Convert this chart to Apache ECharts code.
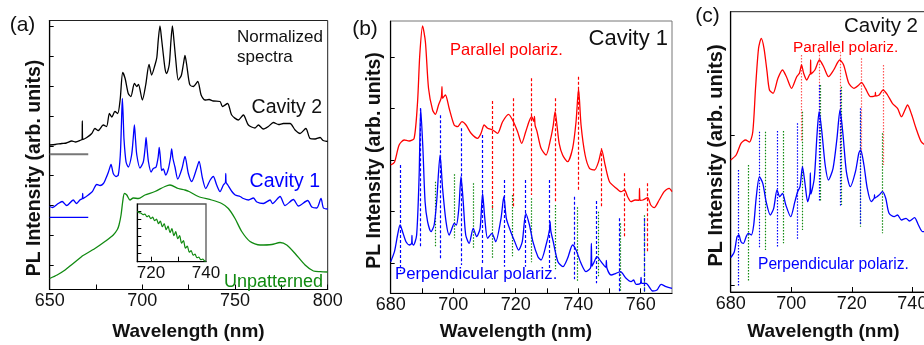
<!DOCTYPE html>
<html>
<head>
<meta charset="utf-8">
<script src="https://cdn.jsdelivr.net/npm/echarts@6/dist/echarts.min.js"></script>
<style>
  html, body { margin: 0; padding: 0; background: #fff; }
  #chart { width: 924px; height: 345px; }
</style>
</head>
<body>
<div id="chart"></div>
<script>
// PL spectra, intensities in arb. units (height above the panel's bottom axis)

// (a) normalized spectra
const cavity2A = [[650,144.5],[653,145],[656.5,146],[659,146.5],[661.9,148.5],[664,147.5],[666.9,149.5],[667.5,150],[667.6,168.5],[667.8,150],[670,152],[672.7,156],[674.4,161],[676.2,159],[678.9,164.5],[680.7,163],[682.2,176],[683.5,172.5],[685.2,178],[686.7,176],[688,189.5],[689.4,217],[690.7,211],[692.4,196],[693.8,193],[695.7,206],[697,203],[697.9,205],[700,189.5],[701.8,204.5],[703.6,225],[705,214.5],[706.8,224.5],[707.8,232],[708.6,250],[709.5,263.5],[710.4,250],[711.3,235],[712.3,220],[713.1,216],[714.5,225],[715.4,248],[716.2,263.5],[717.1,248],[718,230],[719.4,209.5],[721,214],[722.2,226],[723,234],[723.9,225],[725,210],[725.7,204.5],[727.5,203],[729.9,208],[731.7,194.5],[733.8,189.5],[736,190],[738.3,188.5],[741.9,188],[743.2,183],[746,186],[748.2,174.5],[751.8,169.5],[754.5,174.5],[757.2,164.5],[760.8,161.5],[762.6,164.5],[765.3,160.5],[768,163],[770.7,167],[773.5,165],[776.1,166],[779.7,166],[782.4,159.5],[785.1,156],[788.2,161],[790.5,151],[793.2,150.5],[795.9,152],[797.5,149],[800,148]];
const cavity1A = [[650,83],[651.5,82],[654.6,86],[656.7,88],[659.2,84],[662.7,89.5],[664.5,86],[666.3,89.5],[667.6,91],[667.8,96],[668,91],[670.8,94.5],[673,97.8],[675.4,105],[677.2,104],[679,106],[680.3,111],[681.7,117.5],[683.1,125],[684.3,116],[685.8,113],[687,114.5],[688.1,134.5],[688.7,165],[689.2,191],[689.7,170],[690.1,150],[691.2,127.5],[692.4,122.5],[694.2,134.5],[695.1,152],[695.7,164.5],[696.3,150],[697,134.5],[698.7,121.5],[700.5,127.5],[701.5,142],[702,152],[702.6,140],[703.3,127.5],[704.7,117.5],[705.9,121],[707.4,122.5],[708.5,132],[709.1,142],[709.7,132],[710.4,119],[711.3,120.5],[712.6,114.5],[714,120.5],[715.2,132],[715.8,140.5],[716.5,131],[717.6,122.5],[719.1,110.5],[721.3,120.5],[723,133],[724.8,116],[726.6,108],[729.3,121],[730.6,128],[732.4,111.5],[734.2,101],[736.6,109.5],[738.3,113],[740.1,104.5],[741.9,98],[743.7,104.5],[744.8,107],[745,116],[745.2,107],[746.1,104.5],[748.3,98],[750.1,94.5],[752.7,93],[754.5,91],[757.3,89.5],[759.9,91.5],[761.8,87.5],[765.3,86],[768.9,89.5],[770.2,86],[774.3,93],[777,84],[781.5,90],[784.2,83.5],[789.2,89],[791.4,82.5],[794.1,81.5],[796.4,91],[797.7,81.5],[800,80.5]];
const unpatternedA = [[650,11],[654,14.5],[658.3,19.5],[662,25],[667.3,33],[668,34],[674.4,41],[679.8,48],[684.3,54.5],[686.5,60],[687.4,64.5],[688.5,74.5],[689.4,88],[690.3,96],[691.6,94.5],[693.3,89.5],[695.1,91.5],[697.8,91],[701.4,94.5],[706.8,98],[712.2,103],[714.9,104.5],[719.4,101],[723,99.5],[725.2,98],[730.2,93],[737.4,89.5],[742.8,86],[746.4,81],[750,71],[753.6,58],[758.1,48],[763.5,44.5],[769.8,45],[774.3,47],[777.9,44.5],[782.4,36],[787.8,24.5],[792.3,18.5],[796,17.8],[800,17.5]];
const insetA = [[715,50.5],[715.7,49],[716.4,48.5],[717.1,47],[717.8,47.5],[718.5,45],[719.2,46],[719.9,43],[720.6,44.5],[721.3,41],[722,42.5],[722.7,38],[723.4,40.5],[724.1,35],[724.8,38],[725.5,32],[726.2,35.5],[726.9,29],[727.6,33],[728.3,26],[729,30],[729.7,23],[730.4,26],[731.1,18.5],[731.8,21],[732.5,13.5],[733.2,15.5],[733.9,9.5],[734.6,11],[735.3,6.5],[736,7.5],[736.7,4],[737.4,4.5],[738.1,2],[738.8,2.5],[739.5,0.8],[740,0.5]];
const baseCavity2 = 135.2;
const baseCavity1 = 72.2;
const baseRange = [650, 670.8];

// (b) cavity 1, two polarizations
const parallelB = [[680,128.3],[681.2,131],[682.7,148.3],[684.3,153.3],[685.9,152.3],[687.5,155],[688.6,191.6],[689.3,238.3],[690.2,267.3],[691.1,251.6],[692.1,205],[693.4,183.3],[694.3,179],[695.3,188.3],[696.2,196],[696.4,206.6],[696.6,195],[697.5,198.3],[698.7,185],[700.3,168.3],[701.4,166.6],[702.8,171.6],[704.1,168.3],[705.7,160],[707.8,155],[708.9,160],[709.9,168.3],[711,165],[712.6,163.3],[714.2,160],[715.8,171.6],[717.7,179],[719,173.3],[720.6,161.6],[721.9,150],[723.2,161.6],[724.3,172],[725.1,176.6],[725.8,172],[726,177],[726.2,168],[726.8,162],[728.1,145],[729.7,138.3],[731.2,155],[732,168],[732.6,181.6],[733.2,168],[733.9,150],[735,138.3],[736.6,131.6],[738.2,145],[739.3,171.6],[740.1,204.3],[740.9,168.3],[742.2,138.3],[743.6,125],[745.2,123.3],[746.5,131.6],[747.5,143.3],[748.6,128.3],[750,111.6],[752.2,105],[753.7,101.6],[754.8,103.3],[755.8,96.6],[756.9,91.6],[758.2,93.3],[759.5,93],[759.6,105],[759.8,93],[760.7,93.3],[762.2,95.6],[763.2,88.3],[764.3,85.6],[765.9,93.3],[767.5,101.6],[769.1,105],[770,101.6]];
const perpendicularB = [[680,31.6],[681.2,41.6],[682.2,58.3],[683,68.3],[683.8,61.6],[684.9,51.6],[686,48.3],[686.7,50],[686.8,58],[686.9,50],[687.3,48.3],[688.3,58.3],[689.1,118.3],[689.6,185],[690.3,145],[691,91.6],[691.8,71.6],[692.9,61.6],[693.9,68.3],[694.7,91.6],[695.8,138.3],[696.6,105],[697.7,71.6],[698.7,58.3],[699.8,66.6],[700.3,70],[701,68.3],[701.8,85],[702.5,116.6],[703.2,91.6],[704,58.3],[705.1,50],[706.4,65],[707.5,56.6],[708.6,65],[709.4,100],[710.1,75],[711,55],[712.4,60],[713.6,51.6],[715.3,75],[716.2,96.6],[717,75],[718.4,61.6],[719.7,51.6],[720.9,43.3],[722.1,51.6],[723.2,80],[724.4,68.3],[725.5,51.6],[727.1,36.6],[728.1,33.3],[729.7,48.3],[730.8,63.3],[731,71.6],[731.2,63],[732,51.6],[733.5,31.6],[735.1,26.6],[736.6,35],[738.2,48.3],[739.3,43.3],[740.9,30],[742.5,21.6],[744,26],[744.2,50],[744.4,27],[744.9,30],[746,36.6],[747.3,31.6],[748.8,26],[749,33],[749.2,25],[750.5,18.3],[752.1,20],[753.5,21.6],[755.3,15],[756.9,11.6],[757.7,13.3],[758.5,9],[759.9,10],[760.1,16],[760.3,10],[761.7,10],[763.8,2.3],[765.2,3.3],[766.5,9],[768.1,6.6],[770,5]];
// mode markers: [wavelength, top, bottom]
const redModesB = [[712.6,192.3,85],[719.2,195,86.6],[725.1,215,98.3],[732.7,195,90],[740.1,216.6,103.3],[747.3,145,85],[754.8,120,56.6],[762.2,110,40]];
const blueModesB = [[683.1,128.3,22],[689.5,185,45],[695.9,178,35],[702.5,165,28.3],[709.4,158.3,28.3],[716.3,113.3,26.6],[723.2,113.3,26.6],[730.8,113.3,25],[738.6,96.6,14],[745.8,92.3,10],[753.2,75,1.6],[761.2,75,1.6]];
const greenModesB = [[694.3,111.6,47],[700.3,119,55],[706.5,110,45],[712.6,88,35],[719,98.3,37],[725.1,95,31],[732.6,88.3,24],[739.8,86,12],[746.5,81.6,17],[753.5,70,1.6],[761.2,78,1.6]];

// (c) cavity 2, two polarizations
const parallelC = [[680,132],[681.8,137],[683.4,148.7],[684.9,152],[686.2,150],[687.3,160.3],[688.2,203.7],[689.2,243.7],[690.1,253.7],[691,243.7],[692,220.3],[692.8,202],[694,198.7],[695.6,213.7],[697.1,222],[698.4,215.3],[700.1,203.7],[701.8,215.3],[702.7,218.7],[703.4,227],[704.1,218.7],[705.1,212],[706,217],[706.3,218],[706.4,232],[706.5,218],[707.8,222],[709.3,232],[710.7,225.3],[712.3,215.3],[714,222],[716,232],[717.3,227],[719,208.7],[720.7,203.7],[722.3,207],[723.2,209.7],[724.5,203.7],[726.2,195.3],[727.7,196.3],[727.8,199.5],[727.9,196],[729,197],[730.3,202],[731.8,197],[733.4,188.7],[735.1,183.7],[736.4,175.3],[737.3,180.3],[738.4,187],[739.8,177],[741.2,163.7],[742.9,150.3],[744.4,147]];
const perpendicularC = [[680,34.3],[681.2,40.3],[682.1,55.3],[682.7,57],[683.4,50.3],[684.2,48.7],[685.1,55.3],[685.8,58.7],[686.8,57],[687.6,67],[688.4,93.7],[689.5,115.3],[690.6,108.7],[691.7,90.3],[693.1,77],[694.2,83.7],[695.3,102],[696.2,95.3],[697.1,98.7],[698.2,87],[699.8,75.3],[701.2,90.3],[702.1,100.3],[702.9,105.3],[703.7,125.3],[704.6,107],[705.4,90.3],[706.2,100],[706.3,119],[706.5,98],[707.6,113.7],[708.5,157],[709.2,180.3],[710.1,160.3],[711.2,127],[712.3,112],[713.8,123.7],[715.1,153.7],[716.1,182],[717.1,157],[718.2,120.3],[719.5,105.3],[721.2,120.3],[722.3,138.7],[722.9,142],[724,127],[725.1,103.7],[726.4,90.3],[727.4,94],[727.5,97],[727.6,94],[729,97],[730.1,100.3],[731.2,93.7],[732.3,78.7],[734,75.3],[735.1,77],[736.4,72],[737.9,73.7],[739,71],[740.7,74.3],[742,67],[743.4,60.3],[744.4,60.3]];
const redModesC = [[703.4,237,150.3],[709.2,240.3,153.7],[716.1,240.3,140.3],[723.2,233.7,137],[730.3,227,127]];
const blueModesC = [[682.5,122,5.3],[689.5,160.3,43.7],[695.3,161,45],[702.1,168.7,52],[709.2,207,90.3],[716.2,202,85.3],[722.9,183.7,67]];
const greenModesC = [[685.8,127,10.3],[691.3,160.3,42],[697.5,161,48.7],[703.7,180.3,62],[709.5,207,90.3],[716.4,205.3,87],[722.7,180.3,65.3],[729.9,158.7,58.7]];

// tick values
const ticksXA = [650, 675, 700, 725, 750, 775, 800];
const labelsXA = [650, 700, 750, 800];
const ticksXInset = [720, 730];
const labelsXInset = [720, 740];
const ticksYInset = [8, 16.5, 25, 33.5, 42, 50.5];
const ticksYA = [24.5, 54.3, 84.1, 113.9, 143.7, 173.5, 203.3, 233.1, 262.9];
const ticksXB = [690, 700, 710, 720, 730, 740, 750, 760];
const labelsXB = [680, 700, 720, 740, 760];
const ticksYB = [30, 81.6, 133.2, 184.8, 236.4];
const labelsXC = [680, 700, 720, 740];
const ticksYC = [7, 157];

const FONT = "'Liberation Sans', Arial, Helvetica, sans-serif";
const BLUE = '#0000ff';
const RED = '#ff0000';
const GREEN = '#118a11';

const chart = echarts.init(document.getElementById('chart'));

function xAx(gi, min, max, ticks, labels, size) {
    return {
        type: 'value', gridIndex: gi, min: min, max: max,
        axisLine: { lineStyle: { color: '#000', width: 1.2 } },
        axisTick: { inside: true, length: 5, customValues: ticks, lineStyle: { color: '#000' } },
        axisLabel: { customValues: labels, fontSize: size, color: '#111', fontFamily: FONT, margin: 3 },
        splitLine: { show: false }
    };
}
function yAx(gi, max, ticks) {
    return {
        type: 'value', gridIndex: gi, min: 0, max: max,
        axisLine: { lineStyle: { color: '#000', width: 1.2 } },
        axisTick: { inside: true, length: 4, customValues: ticks, lineStyle: { color: '#000' } },
        axisLabel: { show: false },
        splitLine: { show: false }
    };
}
function curve(data, idx, color, width) {
    return {
        type: 'line', xAxisIndex: idx, yAxisIndex: idx, data: data,
        showSymbol: false, smooth: 0.25, silent: true,
        lineStyle: { color: color, width: width || 1.3 }
    };
}
function modes(list, idx, color, dash) {
    return {
        type: 'lines', coordinateSystem: 'cartesian2d', xAxisIndex: idx, yAxisIndex: idx, silent: true,
        lineStyle: { color: color, width: 1.2, type: dash, opacity: 1 },
        data: list.map(m => ({ coords: [[m[0], m[1]], [m[0], m[2]]] }))
    };
}
function txt(text, x, y, size, color, align, bold, rot) {
    return {
        type: 'text', x: x, y: y, rotation: rot || 0, z: 100, silent: true,
        style: {
            text: text, x: 0, y: 0, fill: color,
            font: (bold ? 'bold ' : '') + size + 'px ' + FONT,
            textAlign: align, align: align, textVerticalAlign: 'middle', verticalAlign: 'middle'
        }
    };
}

const option = {
    animation: false,
    backgroundColor: '#fff',
    grid: [
        { left: 49.7, top: 20.5, width: 278, height: 269, show: true, borderColor: '#222', borderWidth: 1, outerBoundsMode: 'none' },
        { left: 137.3, top: 204, width: 68.7, height: 57.7, show: true, borderColor: '#555', borderWidth: 1.3, backgroundColor: '#fff', z: 3, outerBoundsMode: 'none' },
        { left: 390.7, top: 21, width: 281.3, height: 272.3, show: true, borderColor: '#777', borderWidth: 1, outerBoundsMode: 'none' },
        { left: 730.7, top: 11.7, width: 195, height: 280.3, show: true, borderColor: '#222', borderWidth: 1, outerBoundsMode: 'none' }
    ],
    xAxis: [
        xAx(0, 650, 800, ticksXA, labelsXA, 18),
        Object.assign(xAx(1, 715, 740, ticksXInset, labelsXInset, 17), { z: 4 }),
        xAx(2, 680, 770, ticksXB, labelsXB, 18),
        xAx(3, 680, 744.4, labelsXC, labelsXC, 18)
    ],
    yAxis: [
        yAx(0, 269, ticksYA),
        Object.assign(yAx(1, 57.7, ticksYInset), { z: 4 }),
        yAx(2, 272.3, ticksYB),
        yAx(3, 280.3, ticksYC)
    ],
    series: [
        curve(cavity2A, 0, '#000'),
        curve(cavity1A, 0, BLUE),
        curve(unpatternedA, 0, GREEN),
        curve([[baseRange[0], baseCavity2], [baseRange[1], baseCavity2]], 0, '#777', 2),
        curve([[baseRange[0], baseCavity1], [baseRange[1], baseCavity1]], 0, BLUE, 1.3),
        Object.assign(curve(insetA, 1, GREEN, 1.2), { z: 5 }),
        curve(parallelB, 2, RED),
        curve(perpendicularB, 2, BLUE),
        modes(greenModesB, 2, GREEN, [1.5, 1.5]),
        modes(redModesB, 2, RED, [3, 2]),
        modes(blueModesB, 2, BLUE, [3, 2]),
        curve(parallelC, 3, RED),
        curve(perpendicularC, 3, BLUE),
        modes(greenModesC, 3, GREEN, [1.5, 1.5]),
        modes(redModesC, 3, '#ff5555', [1.5, 1.5]),
        modes(blueModesC, 3, BLUE, [1.5, 1.5])
    ],
    graphic: [
        txt('(a)', 22.5, 25, 21, '#111', 'center'),
        txt('Normalized', 237, 37, 17, '#111', 'left'),
        txt('spectra', 237, 57, 17, '#111', 'left'),
        txt('Cavity 2', 322, 108, 19.5, '#111', 'right'),
        txt('Cavity 1', 320, 182, 19.5, BLUE, 'right'),
        txt('Unpatterned', 323, 282, 18, GREEN, 'right'),
        txt('PL Intensity (arb. units)', 35, 168, 19.5, '#111', 'center', true, Math.PI / 2),
        txt('Wavelength (nm)', 188.5, 332, 19, '#111', 'center', true),

        txt('(b)', 365, 29.5, 21, '#111', 'center'),
        txt('Cavity 1', 668, 38.5, 22, '#111', 'right'),
        txt('Parallel polariz.', 450, 50, 16.5, RED, 'left'),
        txt('Perpendicular polariz.', 395, 274, 16.8, BLUE, 'left'),
        txt('PL Intensity (arb. units)', 375, 160.5, 19.5, '#111', 'center', true, Math.PI / 2),
        txt('Wavelength (nm)', 516, 332, 19, '#111', 'center', true),

        txt('(c)', 707.5, 16.5, 21, '#111', 'center'),
        txt('Cavity 2', 918, 26.7, 20.5, '#111', 'right'),
        txt('Parallel polariz.', 793, 47.7, 15.4, RED, 'left'),
        txt('Perpendicular polariz.', 758, 265, 15.6, BLUE, 'left'),
        txt('PL Intensity (arb. units)', 716, 155.5, 20, '#111', 'center', true, Math.PI / 2),
        txt('Wavelength (nm)', 823.5, 332, 19, '#111', 'center', true)
    ]
};

chart.setOption(option);
</script>
</body>
</html>
